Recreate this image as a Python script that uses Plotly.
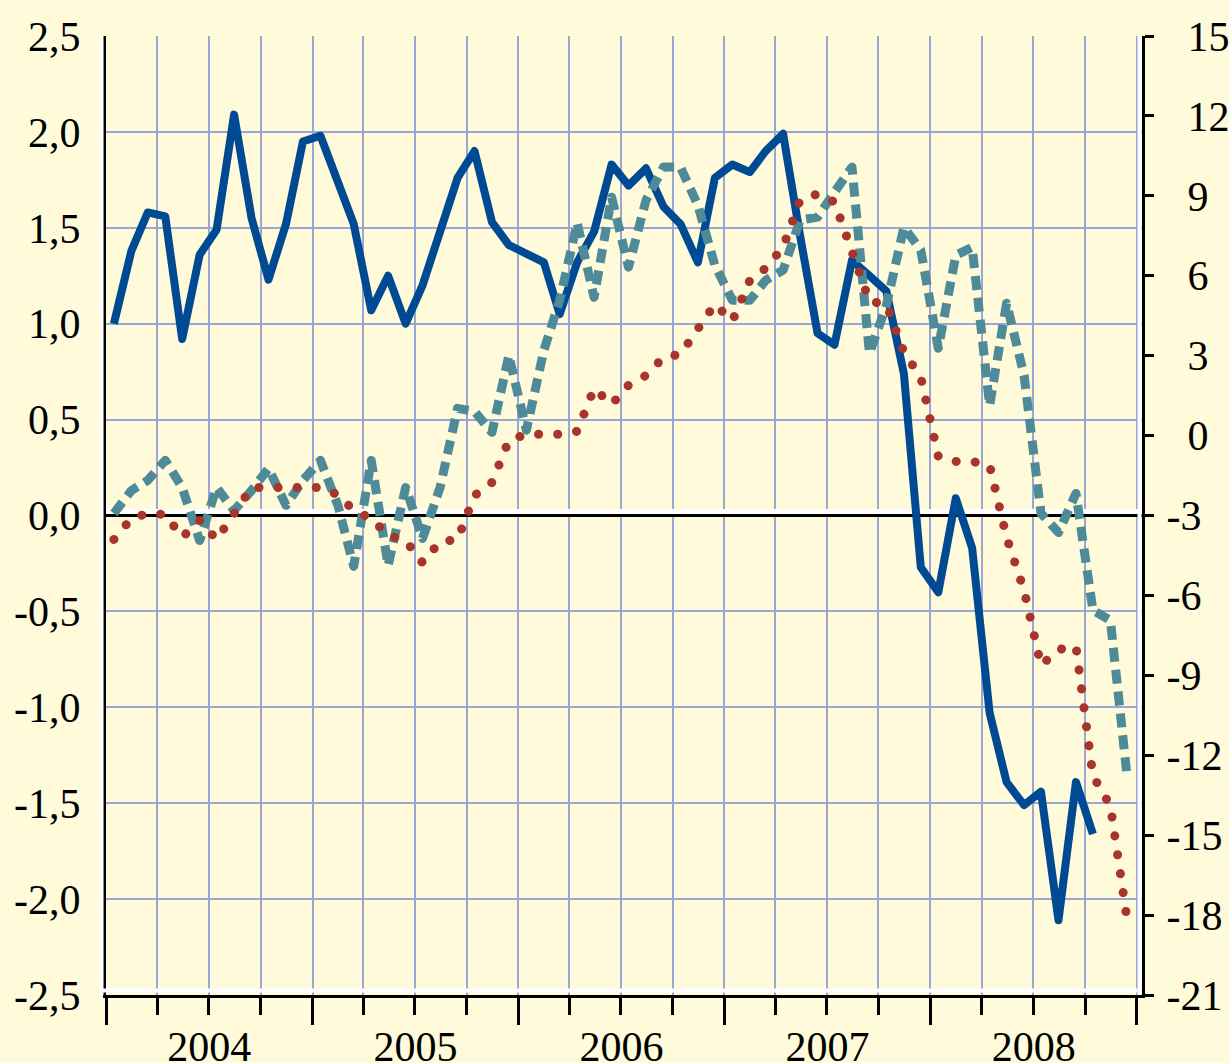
import plotly.graph_objects as go

# ---- data -------------------------------------------------------------
months = [f"{y}-{m:02d}-15" for y in range(2004, 2009) for m in range(1, 13)]

# solid dark-blue series (left axis)
blue_vals = [1.00, 1.38, 1.58, 1.56, 0.92, 1.36, 1.49, 2.09, 1.55, 1.23, 1.52, 1.95,
             1.98, 1.75, 1.52, 1.07, 1.25, 1.00, 1.20, 1.48, 1.76, 1.90, 1.53, 1.41,
             1.37, 1.32, 1.05, 1.32, 1.48, 1.83, 1.72, 1.81, 1.61, 1.52, 1.32, 1.76,
             1.83, 1.79, 1.90, 1.99, 1.46, 0.95, 0.89, 1.33, 1.25, 1.17, 0.74, -0.27,
             -0.40, 0.09, -0.17, -1.03, -1.39, -1.51, -1.44, -2.11, -1.39, -1.66]

# dotted red series (right axis)
red_vals = [-3.90, -3.11, -2.92, -2.96, -3.82, -3.19, -3.90, -2.89, -1.95, -1.95, -1.95, -1.95,
            -1.95, -2.22, -2.81, -3.11, -3.75, -3.94, -4.77, -3.98, -3.90, -2.25, -1.76, -0.18,
            0.05, 0.05, 0.05, 0.16, 1.77, 1.17, 1.89, 2.26, 2.94, 3.05, 3.95, 4.93,
            4.30, 5.83, 6.28, 7.07, 8.84, 9.07, 8.77, 6.96, 5.04, 4.93, 3.13, 2.19,
            -0.78, -0.97, -0.97, -1.12, -3.82, -5.81, -8.63, -8.03, -7.92, -12.77, -13.90, -18.22]

# dashed teal series (right axis)
teal_vals = [-2.92, -2.06, -1.68, -0.93, -1.95, -3.94, -1.95, -2.81, -2.06, -1.23, -2.62, -1.68,
             -0.93, -2.62, -4.91, -0.93, -4.88, -1.95, -3.86, -1.95, 1.02, 0.91, 0.12, 3.01,
             0.20, 3.20, 5.08, 7.98, 5.19, 8.95, 6.32, 8.84, 10.08, 10.08, 8.65, 6.39,
             5.08, 5.08, 5.83, 6.21, 8.09, 8.20, 9.14, 10.08, 3.09, 4.89, 7.82, 6.96,
             3.28, 6.77, 7.07, 1.13, 4.97, 2.26, -2.92, -3.64, -2.17, -6.56, -6.94, -12.88]

left_ticks = [2.5, 2.0, 1.5, 1.0, 0.5, 0.0, -0.5, -1.0, -1.5, -2.0, -2.5]
left_labels = ["2,5", "2,0", "1,5", "1,0", "0,5", "0,0", "-0,5", "-1,0", "-1,5", "-2,0", "-2,5"]
right_ticks = [15, 12, 9, 6, 3, 0, -3, -6, -9, -12, -15, -18, -21]
right_labels = ["\u00a0\u00a015", "\u00a0\u00a012", "\u00a0\u00a09", "\u00a0\u00a06",
                "\u00a0\u00a03", "\u00a0\u00a00",
                "-3", "-6", "-9", "-12", "-15", "-18", "-21"]

# ---- styles -----------------------------------------------------------
BG = "#FEFADA"
GRID = "#9AA6D6"
BLUE = "#004A94"
RED = "#A8342A"
TEAL = "#4F8A99"
FONT = "Liberation Serif"
FS = 42

fig = go.Figure()
fig.add_trace(go.Scatter(x=months[:len(blue_vals)], y=blue_vals, mode="lines",
                         line=dict(color=BLUE, width=8), yaxis="y", showlegend=False))
# helper (no data) so that the white shadow axis of the zero line exists
fig.add_trace(go.Scatter(x=[months[0]], y=[None], mode="lines", yaxis="y3",
                         showlegend=False, hoverinfo="skip"))
fig.add_trace(go.Scatter(x=months[:len(teal_vals)], y=teal_vals, mode="lines",
                         line=dict(color=TEAL, width=9, dash="14px,8px"), yaxis="y2",
                         showlegend=False))
fig.add_trace(go.Scatter(x=months[:len(red_vals)], y=red_vals, mode="lines",
                         line=dict(color=RED, width=9, dash="8px,11px"), yaxis="y2",
                         showlegend=False))

shapes = [
    # white shadows of the axes
    dict(type="line", xref="paper", yref="paper", x0=-0.0043, x1=-0.0043, y0=0, y1=1,
         line=dict(color="white", width=4), layer="above"),
    dict(type="line", xref="paper", yref="paper", x0=0.9976, x1=0.9976, y0=0, y1=1,
         line=dict(color="white", width=4), layer="above"),
    dict(type="line", xref="paper", yref="paper", x0=-0.006, x1=0.9955, y0=0.0047, y1=0.0047,
         line=dict(color="white", width=4), layer="above"),
]

fig.update_layout(
    width=1229, height=1063,
    margin=dict(l=106, r=87, t=36, b=68),
    paper_bgcolor=BG, plot_bgcolor=BG,
    font=dict(family=FONT, size=FS, color="black"),
    showlegend=False,
    shapes=shapes,
    xaxis=dict(
        type="date", range=["2004-01-01", "2009-01-10"], automargin=False,
        tick0="2004-01-01", dtick="M12", tickformat="%Y", ticklabelmode="period",
        ticks="outside", ticklen=27, tickwidth=3, tickcolor="black",
        showline=True, linecolor="black", linewidth=3,
        showgrid=True, gridcolor=GRID, gridwidth=2, zeroline=False,
        minor=dict(tick0="2004-01-01", dtick="M3", ticks="outside", ticklen=17,
                   tickwidth=3, tickcolor="black", showgrid=True, gridcolor=GRID,
                   gridwidth=2),
        ticklabelstandoff=-14,
        tickfont=dict(family=FONT, size=FS, color="black"),
    ),
    yaxis=dict(
        range=[-2.5, 2.5], tickvals=left_ticks, ticktext=left_labels, automargin=False,
        ticks="", showline=True, linecolor="black", linewidth=3,
        showgrid=True, gridcolor=GRID, gridwidth=2,
        zeroline=True, zerolinecolor="black", zerolinewidth=3,
        ticklabelstandoff=14,
        tickfont=dict(family=FONT, size=FS, color="black"),
    ),
    yaxis2=dict(
        overlaying="y", side="right", range=[-21, 15], automargin=False,
        tickvals=right_ticks, ticktext=right_labels,
        ticks="outside", ticklen=9, tickwidth=3, tickcolor="black",
        showline=True, linecolor="black", linewidth=3,
        showgrid=False, zeroline=False, ticklabelstandoff=4,
        tickfont=dict(family=FONT, size=FS, color="black"),
    ),
    # invisible axis whose zero line is the white shadow above the black zero line
    yaxis3=dict(
        overlaying="y", range=[-2.5 - 0.021, 2.5 - 0.021], automargin=False,
        showticklabels=False, ticks="", showline=False, showgrid=False,
        zeroline=True, zerolinecolor="white", zerolinewidth=5,
    ),
)

post = """
document.documentElement.style.overflow = 'hidden';
document.body.style.overflow = 'hidden';
document.body.style.margin = '0';
document.body.style.padding = '0';
document.body.style.backgroundColor = '#FEFADA';
var gd = document.getElementById('{plot_id}');
function fixLines(){
  gd.querySelectorAll('path.js-line').forEach(function(p){
    p.style.strokeLinejoin = 'round';
    var s = (p.style.stroke || '').replace(/\\s/g, '');
    if (s === 'rgb(168,52,42)') {
      p.style.strokeLinecap = 'round';
      p.style.strokeDasharray = '0.1px,19px';
    }
  });
}
fixLines();
gd.on('plotly_afterplot', fixLines);
"""

fig.write_html("out.html", post_script=post, config={"displayModeBar": False})
